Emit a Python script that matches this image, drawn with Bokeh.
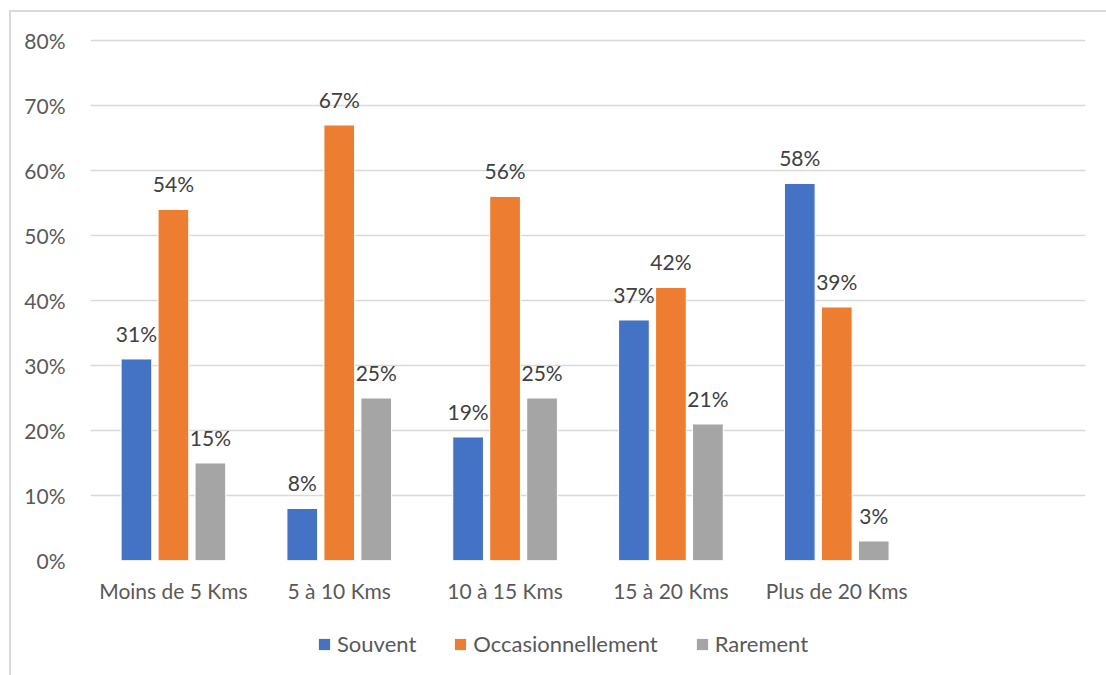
from bokeh.plotting import figure
from bokeh.layouts import column
from bokeh.models import (ColumnDataSource, FactorRange, Range1d, NumeralTickFormatter,
                          LabelSet, Legend, LegendItem, FixedTicker)
from bokeh.core.properties import value
from bokeh.transform import dodge
from bokeh.embed import file_html
from bokeh.resources import INLINE

categories = ["Moins de 5 Kms", "5 à 10 Kms", "10 à 15 Kms", "15 à 20 Kms", "Plus de 20 Kms"]
souvent = [0.31, 0.08, 0.19, 0.37, 0.58]
occasionnellement = [0.54, 0.67, 0.56, 0.42, 0.39]
rarement = [0.15, 0.25, 0.25, 0.21, 0.03]
series_names = ["Souvent", "Occasionnellement", "Rarement"]
colors = ["#4472C4", "#ED7D31", "#A5A5A5"]
y_ticks = [0, 0.1, 0.2, 0.3, 0.4, 0.5, 0.6, 0.7, 0.8]

FONT = "Lato"
FONT_SIZE = "21px"
LEGEND_FONT_SIZE = "22px"
AXIS_COLOR = "#595959"
LABEL_COLOR = "#404040"

# an empty trailing slot keeps the category axis six groups wide
factors = categories + [" "]

source = ColumnDataSource(data=dict(
    cat=categories,
    souvent=souvent,
    occasionnellement=occasionnellement,
    rarement=rarement,
    souvent_txt=[f"{round(v * 100)}%" for v in souvent],
    occasionnellement_txt=[f"{round(v * 100)}%" for v in occasionnellement],
    rarement_txt=[f"{round(v * 100)}%" for v in rarement],
))

p = figure(
    x_range=FactorRange(*factors, range_padding=0),
    y_range=Range1d(0, 0.803),
    width=1095, height=601,
    output_backend="svg", toolbar_location=None,
    min_border_left=79, min_border_right=21, min_border_top=26, min_border_bottom=53,
)
p.outline_line_color = None
p.background_fill_color = "white"
p.border_fill_color = "white"

p.xgrid.grid_line_color = None
p.ygrid.grid_line_color = "#d9d9d9"
p.ygrid.grid_line_width = 1.5
p.yaxis.ticker = FixedTicker(ticks=y_ticks)
p.yaxis.formatter = NumeralTickFormatter(format="0%")

for ax in (p.xaxis, p.yaxis):
    ax.axis_line_color = None
    ax.major_tick_line_color = None
    ax.minor_tick_line_color = None
    ax.major_label_text_font = FONT
    ax.major_label_text_font_size = FONT_SIZE
    ax.major_label_text_color = AXIS_COLOR
p.xaxis.major_label_standoff = 11
p.yaxis.major_label_standoff = 19

fields = ["souvent", "occasionnellement", "rarement"]
offsets = [-0.223, 0.0, 0.223]
for field, off, col in zip(fields, offsets, colors):
    p.vbar(x=dodge("cat", off, range=p.x_range), top=field, width=0.185,
           source=source, fill_color=col, line_color="white", line_width=1)
    labels = LabelSet(x=dodge("cat", off, range=p.x_range), y=field, text=field + "_txt",
                      source=source, text_align="center", text_baseline="bottom",
                      y_offset=13, text_font=value(FONT), text_font_size=value(FONT_SIZE),
                      text_color=LABEL_COLOR)
    p.add_layout(labels)

# legend strip under the chart: flat swatch renderers carry the series colours
leg = figure(width=1095, height=62, x_range=Range1d(0, 1), y_range=Range1d(0, 1),
             output_backend="svg", toolbar_location=None,
             x_axis_location=None, y_axis_location=None,
             min_border=0, outline_line_color=None)
leg.grid.grid_line_color = None
items = []
for col, name in zip(colors, series_names):
    swatch = leg.vbar(x=[0.5], top=[0], bottom=[0], width=0.0, fill_color=col, line_color=None)
    items.append(LegendItem(label=name, renderers=[swatch]))

legend = Legend(items=items, orientation="horizontal", location=(227, 18),
                glyph_width=14, glyph_height=14, spacing=37,
                label_text_font=FONT, label_text_font_size=LEGEND_FONT_SIZE,
                label_text_color=AXIS_COLOR, label_standoff=6,
                border_line_color=None, background_fill_alpha=0,
                margin=0, padding=0)
leg.add_layout(legend, "center")

layout = column(p, leg, spacing=0)
layout.margin = (10, 0, 0, 9)
layout.styles = {"border-left": "2px solid #d9d9d9", "border-top": "2px solid #d9d9d9"}

open("out.html", "w").write(file_html(layout, INLINE))
